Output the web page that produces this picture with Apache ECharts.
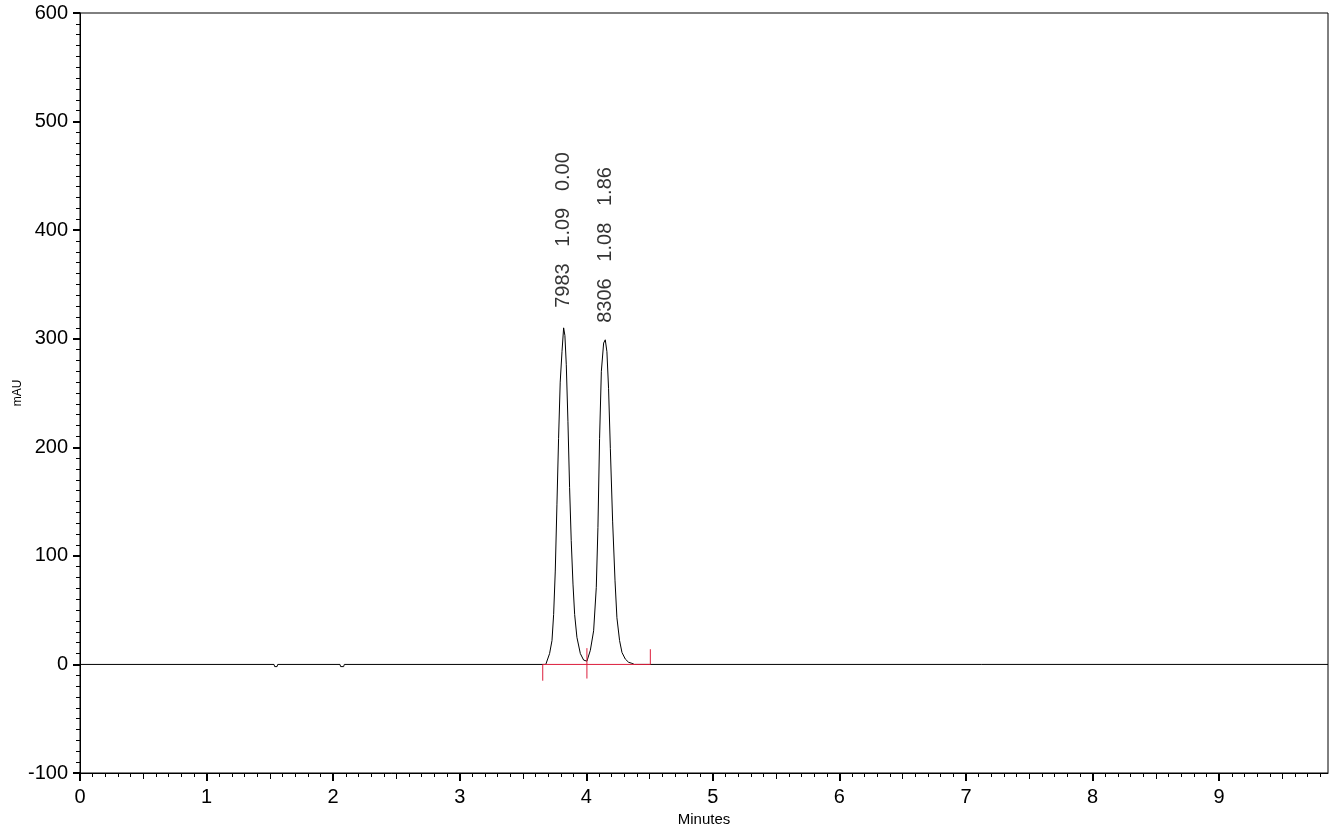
<!DOCTYPE html>
<html>
<head>
<meta charset="utf-8">
<title>Chromatogram</title>
<script src="https://cdn.jsdelivr.net/npm/echarts@6/dist/echarts.min.js"></script>
<style>
    html, body { margin: 0; padding: 0; background: #fff; }
    #chart { width: 1338px; height: 832px; }
</style>
</head>
<body>
<div id="chart"></div>
<script>
// detector trace (minutes / mAU)
const times = [0, 1.533, 1.538, 1.557, 1.562, 2.054, 2.059, 2.083, 2.088,
    3.680, 3.710, 3.729, 3.742, 3.755, 3.768, 3.781, 3.794, 3.808, 3.821, 3.831,
    3.842, 3.855, 3.868, 3.881, 3.895, 3.908, 3.926, 3.953, 3.979, 4.005,
    4.032, 4.058, 4.079, 4.092, 4.105, 4.119, 4.137, 4.150, 4.163, 4.176,
    4.190, 4.208, 4.227, 4.242, 4.263, 4.282, 4.308, 4.334, 4.360, 4.380, 9.86]
const signal = [0, 0, -2, -2, 0, 0, -2, -2, 0,
    0, 10, 22, 46, 86, 147, 208, 260, 288, 310, 303,
    276, 224, 163, 114, 74, 46, 25, 10, 4, 3,
    13, 31, 71, 126, 208, 270, 296, 299, 288, 254,
    199, 132, 77, 43, 22, 11, 5, 2, 1, 0, 0]

// peak annotations
const peakTimes = [3.821, 4.150]
const peakHeights = [310, 299]
const peakLabels = ['7983   1.09   0.00', '8306   1.08   1.86']

// integration baseline (start, split, end)
const baselineTimes = [3.656, 4.005, 4.506]

// axis ticks
const xMajorTicks = [0, 1, 2, 3, 4, 5, 6, 7, 8, 9]
const xMax = 9.86
const xHalfTicks = []
const xMinorTicks = []
for (let i = 0; i <= 98; i++) {
    xMinorTicks.push(+(i / 10).toFixed(1))
    if (i % 10 === 5) xHalfTicks.push(+(i / 10).toFixed(1))
}

const font = 'Liberation Sans, Arial, sans-serif'
const chart = echarts.init(document.getElementById('chart'), null, { renderer: 'canvas' })

function tickAxis(values, len, width) {
    return {
        type: 'value',
        position: 'bottom',
        min: 0,
        max: xMax,
        axisLine: { show: false, onZero: false },
        axisTick: { show: true, length: len, customValues: values, lineStyle: { color: '#000', width: width } },
        axisLabel: { show: false },
        splitLine: { show: false }
    }
}

chart.setOption({
    animation: false,
    backgroundColor: '#fff',
    grid: {
        left: 80,
        right: 10,
        top: 13,
        bottom: 59,
        outerBoundsMode: 'none',
        containLabel: false,
        show: true,
        borderColor: '#000',
        borderWidth: 1
    },
    xAxis: [
        {
            type: 'value',
            position: 'bottom',
            min: 0,
            max: xMax,
            name: 'Minutes',
            nameLocation: 'middle',
            nameGap: 39,
            nameMoveOverlap: false,
            nameTextStyle: { fontFamily: font, fontSize: 15, color: '#000' },
            axisLine: { show: true, onZero: false, lineStyle: { color: '#000', width: 1 } },
            axisTick: { show: true, length: 8, customValues: xMajorTicks, lineStyle: { color: '#000', width: 2 } },
            axisLabel: { customValues: xMajorTicks, margin: 14, fontFamily: font, fontSize: 20, color: '#000' },
            splitLine: { show: false }
        },
        tickAxis(xHalfTicks, 6, 1),
        tickAxis(xMinorTicks, 4, 1)
    ],
    yAxis: {
        type: 'value',
        min: -100,
        max: 600,
        interval: 100,
        name: 'mAU',
        nameLocation: 'middle',
        nameRotate: 90,
        nameGap: 56,
        nameMoveOverlap: false,
        nameTextStyle: { fontFamily: font, fontSize: 12, color: '#000' },
        axisLine: { show: true, onZero: false, lineStyle: { color: '#000', width: 1 } },
        axisTick: { show: true, length: 7, lineStyle: { color: '#000', width: 2 } },
        minorTick: { show: true, splitNumber: 10, length: 4, lineStyle: { color: '#000', width: 1 } },
        axisLabel: { margin: 12, fontFamily: font, fontSize: 20, color: '#000' },
        splitLine: { show: false }
    },
    series: [
        {
            type: 'line',
            data: times.map((t, i) => [t, signal[i]]),
            showSymbol: false,
            symbol: 'none',
            lineStyle: { color: '#000', width: 1 },
            silent: true,
            z: 2
        },
        {
            type: 'line',
            data: [
                [baselineTimes[0], -15], [baselineTimes[0], 0],
                [baselineTimes[2], 0], [baselineTimes[2], 14],
                '-',
                [baselineTimes[1], 15], [baselineTimes[1], -13]
            ],
            connectNulls: false,
            showSymbol: false,
            symbol: 'none',
            lineStyle: { color: '#dc1e3c', width: 1 },
            silent: true,
            z: 3
        },
        {
            type: 'scatter',
            symbolSize: 0,
            silent: true,
            data: peakTimes.map((t, i) => ({
                value: [t, peakHeights[i]],
                label: { distance: i === 0 ? 20 : 17 }
            })),
            label: {
                show: true,
                position: 'top',
                rotate: 90,
                align: 'left',
                verticalAlign: 'middle',
                fontFamily: font,
                fontSize: 20,
                color: '#000',
                formatter: p => peakLabels[p.dataIndex]
            },
            z: 4
        }
    ]
})
</script>
</body>
</html>
